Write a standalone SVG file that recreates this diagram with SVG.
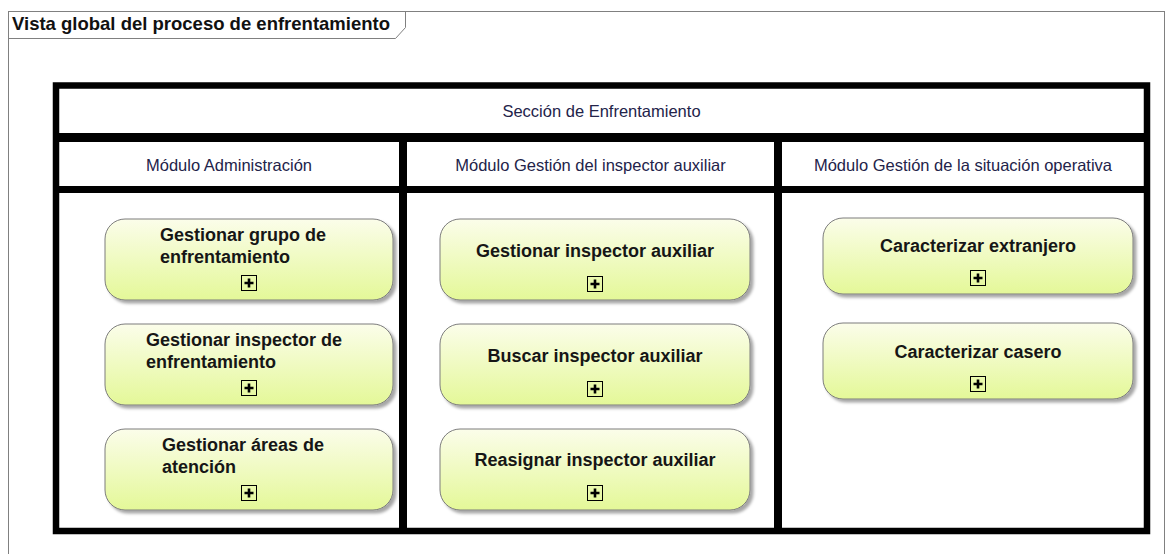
<svg xmlns="http://www.w3.org/2000/svg" width="1172" height="554" viewBox="0 0 1172 554">
<style>
  .frame{fill:none;stroke:#808080;stroke-width:1}
  .title{font-family:"Liberation Sans",Arial,sans-serif;font-weight:bold;font-size:18.5px;fill:#111}
  .hdr{font-family:"Liberation Sans",Arial,sans-serif;font-size:16.5px;fill:#23234a;text-anchor:middle}
  .bar{fill:#000}
  .box{fill:url(#g);stroke:#7c7c7c;stroke-width:1;filter:url(#sh)}
  .lbl{font-family:"Liberation Sans",Arial,sans-serif;font-weight:bold;font-size:18px;fill:#161616}
  .c{text-anchor:middle}
</style>
<defs>
  <linearGradient id="g" x1="0" y1="0" x2="0" y2="1">
    <stop offset="0" stop-color="#fbfdea"/>
    <stop offset="1" stop-color="#e4f898"/>
  </linearGradient>
  <filter id="sh" x="-5%" y="-10%" width="115%" height="130%">
    <feDropShadow dx="3" dy="3" stdDeviation="1.5" flood-color="#000" flood-opacity="0.35"/>
  </filter>
  <g id="plus">
    <rect x="0.5" y="0.5" width="15" height="15" fill="none" stroke="#000" stroke-width="1"/>
    <path d="M3.5,8 H12.5 M8,3.5 V12.5" stroke="#000" stroke-width="2.6" fill="none"/>
  </g>
</defs>
<rect width="1172" height="554" fill="#fff"/>
<g id="frame">
  <rect class="frame" x="8.5" y="11.5" width="1156" height="580"/>
  <path class="frame" d="M8.5,38.5 H395.5 L405.5,27.5 V11.5"/>
  <text class="title" x="12" y="30">Vista global del proceso de enfrentamiento</text>
</g>
<g id="table">
  <rect x="56" y="85.5" width="1091" height="445.5" fill="none" stroke="#000" stroke-width="6.5"/>
  <rect class="bar" x="56" y="133" width="1091" height="9"/>
  <rect class="bar" x="56" y="186" width="1091" height="7"/>
  <rect class="bar" x="399" y="137" width="8" height="394"/>
  <rect class="bar" x="774" y="137" width="8" height="394"/>
  <text class="hdr" x="601.5" y="117">Sección de Enfrentamiento</text>
  <text class="hdr" x="229" y="170.5">Módulo Administración</text>
  <text class="hdr" x="590.5" y="170.5">Módulo Gestión del inspector auxiliar</text>
  <text class="hdr" x="963" y="170.5">Módulo Gestión de la situación operativa</text>
</g>
<g id="n1">
  <rect class="box" x="105" y="219" width="288" height="81" rx="20"/>
  <text class="lbl" x="160" y="241">Gestionar grupo de</text>
  <text class="lbl" x="160" y="263">enfrentamiento</text>
  <use href="#plus" x="241" y="275"/>
</g>
<g id="n2">
  <rect class="box" x="105" y="324" width="288" height="81" rx="20"/>
  <text class="lbl" x="146" y="346">Gestionar inspector de</text>
  <text class="lbl" x="146" y="368">enfrentamiento</text>
  <use href="#plus" x="241" y="380"/>
</g>
<g id="n3">
  <rect class="box" x="105" y="429" width="288" height="81" rx="20"/>
  <text class="lbl" x="162" y="451">Gestionar áreas de</text>
  <text class="lbl" x="162" y="473">atención</text>
  <use href="#plus" x="241" y="485"/>
</g>
<g id="n4">
  <rect class="box" x="440" y="219" width="310" height="81" rx="20"/>
  <text class="lbl c" x="595" y="257">Gestionar inspector auxiliar</text>
  <use href="#plus" x="587" y="276"/>
</g>
<g id="n5">
  <rect class="box" x="440" y="324" width="310" height="81" rx="20"/>
  <text class="lbl c" x="595" y="362">Buscar inspector auxiliar</text>
  <use href="#plus" x="587" y="381"/>
</g>
<g id="n6">
  <rect class="box" x="440" y="429" width="310" height="81" rx="20"/>
  <text class="lbl c" x="595" y="466">Reasignar inspector auxiliar</text>
  <use href="#plus" x="587" y="485"/>
</g>
<g id="n7">
  <rect class="box" x="823" y="218" width="310" height="76" rx="20"/>
  <text class="lbl c" x="978" y="252">Caracterizar extranjero</text>
  <use href="#plus" x="970" y="270"/>
</g>
<g id="n8">
  <rect class="box" x="823" y="323" width="310" height="76" rx="20"/>
  <text class="lbl c" x="978" y="358">Caracterizar casero</text>
  <use href="#plus" x="970" y="376"/>
</g>
</svg>
